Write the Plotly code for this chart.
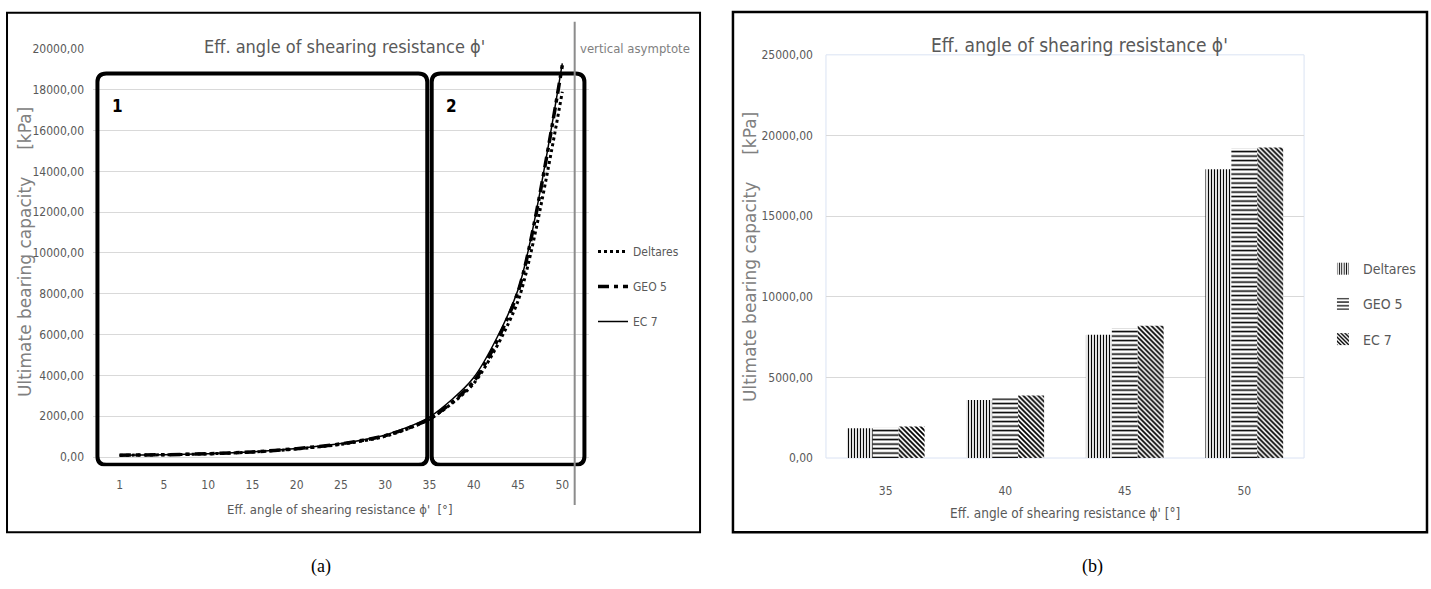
import plotly.graph_objects as go

# ---------------- data ----------------
angle_labels = ["1", "5", "10", "15", "20", "25", "30", "35", "40", "45", "50"]
deltares_curve = [85, 110, 155, 240, 395, 620, 1010, 1850, 3600, 7650, 17900]
geo5_curve = [88, 112, 160, 250, 410, 645, 1050, 1870, 3700, 8100, 19200]
ec7_curve = [90, 115, 165, 255, 420, 660, 1080, 1960, 3900, 8200, 19300]

bar_labels = ["35", "40", "45", "50"]
deltares_bar = [1850, 3600, 7650, 17900]
geo5_bar = [1870, 3700, 8050, 19200]
ec7_bar = [1950, 3880, 8200, 19250]

series_names = ["Deltares", "GEO 5", "EC 7"]
title_text = "Eff. angle of shearing resistance \u03d5'"
xtitle_a = "Eff. angle of shearing resistance \u03d5'\u00a0 [\u00b0]"
xtitle_b = "Eff. angle of shearing resistance \u03d5' [\u00b0]"
ytitle = "Ultimate bearing capacity\u00a0\u00a0\u00a0\u00a0 [kPa]"

# region boxes (index range on the category axis) and their labels
regions = [(-0.5, 6.95, "1"), (7.05, 10.5, "2")]
region_y = (-380, 18800)
asymptote_index = 10.28

NARROW = "DejaVu Sans Condensed, Liberation Sans Narrow, Liberation Sans, sans-serif"
GREY = "#595959"

idx = list(range(len(angle_labels)))

fig = go.Figure()

# ---------------- left chart (lines) ----------------
fig.add_trace(go.Scatter(x=idx, y=deltares_curve, mode="lines", name=series_names[0],
                         line=dict(color="black", width=3, dash="dot", shape="spline", smoothing=0.7),
                         xaxis="x", yaxis="y", legend="legend", legendgroup="a1"))
fig.add_trace(go.Scatter(x=idx, y=geo5_curve, mode="lines", name=series_names[1],
                         line=dict(color="black", width=3.5, dash="11px,5px,4px,5px",
                                   shape="spline", smoothing=0.7),
                         xaxis="x", yaxis="y", legend="legend", legendgroup="a2"))
fig.add_trace(go.Scatter(x=idx, y=ec7_curve, mode="lines", name=series_names[2],
                         line=dict(color="black", width=1.5, shape="spline", smoothing=0.7),
                         xaxis="x", yaxis="y", legend="legend", legendgroup="a3"))

# ---------------- right chart (bars) ----------------
patterns = [dict(shape="|", size=3, solidity=0.4),
            dict(shape="-", size=4.5, solidity=0.35),
            dict(shape="\\", size=3.5, solidity=0.5)]
for name, vals, pat, g in zip(series_names, [deltares_bar, geo5_bar, ec7_bar], patterns, ["b1", "b2", "b3"]):
    fig.add_trace(go.Bar(x=bar_labels, y=vals, name=name,
                         marker=dict(color="white", line=dict(width=0),
                                     pattern=dict(fgcolor="black", bgcolor="white",
                                                  fillmode="replace", **pat)),
                         xaxis="x2", yaxis="y2", legend="legend2", legendgroup=g))

tickfont = dict(family=NARROW, size=12, color=GREY)

fig.update_layout(
    width=1431, height=589,
    margin=dict(l=0, r=0, t=0, b=0),
    paper_bgcolor="white", plot_bgcolor="white",
    separators=",.",
    barmode="group", bargap=0.35, bargroupgap=0,
    xaxis=dict(domain=[0.0650, 0.4115], range=[-0.6, 10.6], tickvals=idx, ticktext=angle_labels,
               showgrid=False, zeroline=False, showline=False, ticks="",
               tickfont=tickfont, ticklabelstandoff=10),
    yaxis=dict(domain=[0.2014, 0.9270], range=[-450, 20000], tick0=0, dtick=2000,
               tickformat=".2f", gridcolor="#d9d9d9", gridwidth=1, zeroline=False,
               showline=False, ticks="", tickfont=tickfont, ticklabelstandoff=8),
    xaxis2=dict(domain=[0.5772, 0.9113], type="category", showgrid=False, zeroline=False,
                showline=False, ticks="", tickfont=tickfont, ticklabelstandoff=16),
    yaxis2=dict(domain=[0.2156, 0.9168], range=[0, 25000], dtick=5000, tickformat=".2f",
                gridcolor="#d9d9d9", gridwidth=1, zeroline=False, showline=False, ticks="",
                tickfont=tickfont, ticklabelstandoff=12, anchor="x2"),
    legend=dict(x=0.4144, y=0.60, xanchor="left", yanchor="top", tracegroupgap=16,
                font=dict(family=NARROW, size=12, color=GREY), bgcolor="rgba(0,0,0,0)"),
    legend2=dict(x=0.9245, y=0.572, xanchor="left", yanchor="top", tracegroupgap=14,
                 font=dict(family=NARROW, size=14, color=GREY), bgcolor="rgba(0,0,0,0)"),
    showlegend=True,
)


def rounded_rect(x0, x1, y0, y1, rx, ry):
    return (f"M {x0 + rx},{y1} L {x1 - rx},{y1} Q {x1},{y1} {x1},{y1 - ry} "
            f"L {x1},{y0 + ry} Q {x1},{y0} {x1 - rx},{y0} L {x0 + rx},{y0} "
            f"Q {x0},{y0} {x0},{y0 + ry} L {x0},{y1 - ry} Q {x0},{y1} {x0 + rx},{y1} Z")


def note(text, x, y, size, color=GREY, family=NARROW, xref="paper", yref="paper",
         xanchor="center", yanchor="middle", **kw):
    return dict(text=text, x=x, y=y, xref=xref, yref=yref, xanchor=xanchor, yanchor=yanchor,
                showarrow=False, font=dict(family=family, size=size, color=color), **kw)


shapes = []
annotations = []
for x0, x1, lab in regions:
    shapes.append(dict(type="path", xref="x", yref="y",
                       path=rounded_rect(x0, x1, region_y[0], region_y[1], 0.2, 420),
                       line=dict(color="black", width=4)))
    annotations.append(note(f"<b>{lab}</b>", x0 + 0.28, 17200, 17, color="black",
                            xref="x", yref="y", xanchor="left"))

# vertical asymptote
shapes.append(dict(type="line", xref="x", yref="paper", x0=asymptote_index, x1=asymptote_index,
                   y0=0.134, y1=0.9745, line=dict(color="#8c8c8c", width=2)))
annotations.append(note("vertical asymptote", asymptote_index, 0.927, 13, color="#7f7f7f",
                        xref="x", xanchor="left", xshift=3))

# panel frames
shapes.append(dict(type="rect", xref="paper", yref="paper", x0=0.0049, x1=0.4892, y0=0.0866, y1=0.9898,
                   line=dict(color="black", width=2)))
shapes.append(dict(type="rect", xref="paper", yref="paper", x0=0.5122, x1=0.9972, y0=0.0866, y1=0.9915,
                   line=dict(color="black", width=2.5)))
# faint plot-area border of right chart
shapes.append(dict(type="rect", xref="x2 domain", yref="y2 domain", x0=0, x1=1, y0=0, y1=1,
                   line=dict(color="#dae3f3", width=1), layer="below"))

# titles
annotations.append(note(title_text, 0.2404, 0.932, 18))
annotations.append(note(title_text, 0.7547, 0.934, 19))
# x axis titles
annotations.append(note(xtitle_a, 0.2376, 0.1256, 13))
annotations.append(note(xtitle_b, 0.7442, 0.1205, 13.5))
# y axis titles
for xc, yc in [(0.0175, 0.574), (0.524, 0.565)]:
    annotations.append(note(ytitle, xc, yc, 17, color="#808080", family="DejaVu Sans", textangle=-90))
# captions
for txt, xc in [("(a)", 0.2243), ("(b)", 0.7638)]:
    annotations.append(note(txt, xc, 0.0272, 18, color="black", family="Liberation Serif, DejaVu Serif"))

fig.update_layout(shapes=shapes, annotations=annotations)

fig.write_html("out.html", config={"displayModeBar": False},
               post_script="document.body.style.margin='0';document.body.style.padding='0';"
                           "document.documentElement.style.overflow='hidden';")
